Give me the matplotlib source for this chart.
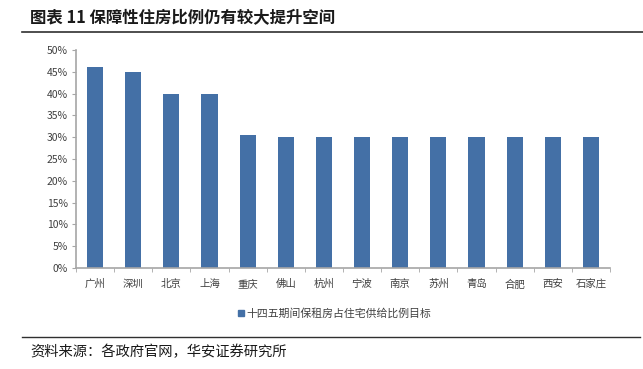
import matplotlib
matplotlib.use("Agg")
import matplotlib.pyplot as plt
from matplotlib.lines import Line2D
import numpy as np

plt.rcParams['font.family'] = ['Noto Sans CJK SC', 'DejaVu Sans']

cities = ["广州", "深圳", "北京", "上海", "重庆", "佛山", "杭州", "宁波", "南京", "苏州", "青岛", "合肥", "西安", "石家庄"]
values = [46, 45, 40, 40, 30.5, 30, 30, 30, 30, 30, 30, 30, 30, 30]
yticks = [0, 5, 10, 15, 20, 25, 30, 35, 40, 45, 50]
series_name = "十四五期间保租房占住宅供给比例目标"
title = "图表 11 保障性住房比例仍有较大提升空间"
source = "资料来源：各政府官网，华安证券研究所"

W, H = 643, 369
fig = plt.figure(figsize=(W/100, H/100), dpi=100)
ax = fig.add_axes([76/W, 1-268/H, (610-76)/W, (268-50)/H])

color = "#4470A6"
x = np.arange(len(cities))
ax.bar(x, values, width=0.42, color=color, zorder=2)
ax.set_xlim(-0.5, len(cities)-0.5)
ax.set_ylim(0, 50)
ax.set_yticks(yticks)
ax.set_yticklabels([f"{v}%" for v in yticks], fontsize=7.5, color="#404040")
ax.set_xticks(x)
ax.set_xticklabels(cities, fontsize=7.5, color="#404040")
ax.tick_params(axis='x', length=0, pad=8)
ax.set_xticks(np.arange(-0.5, len(cities)), minor=True)
ax.tick_params(axis='x', which='minor', length=3, direction='out', color="#A6A6A6")
ax.tick_params(axis='y', length=3, direction='out', color="#A6A6A6", pad=3)
for s in ['top', 'right']:
    ax.spines[s].set_visible(False)
for s in ['left', 'bottom']:
    ax.spines[s].set_color("#A6A6A6")
    ax.spines[s].set_linewidth(1.2)

handle = Line2D([], [], marker='s', linestyle='', color=color, markersize=4.5)
fig.legend([handle], [series_name], loc='center', bbox_to_anchor=(334/W, 1-313/H),
           frameon=False, fontsize=7.8, handletextpad=0.1, handlelength=0.8,
           labelcolor="#404040")

fig.text(30/W, 1-18/H, title, fontsize=11.8, fontweight='bold', va='center', ha='left', color="#1a1a1a")
fig.add_artist(Line2D([22/W, 1.0], [1-32/H, 1-32/H], color="#303030", linewidth=1.2))
fig.add_artist(Line2D([22/W, 640/W], [1-337/H, 1-337/H], color="#303030", linewidth=1.0))
fig.text(30/W, 1-352/H, source, fontsize=10.3, va='center', ha='left', color="#1a1a1a")

fig.savefig("out.png", dpi=100)
